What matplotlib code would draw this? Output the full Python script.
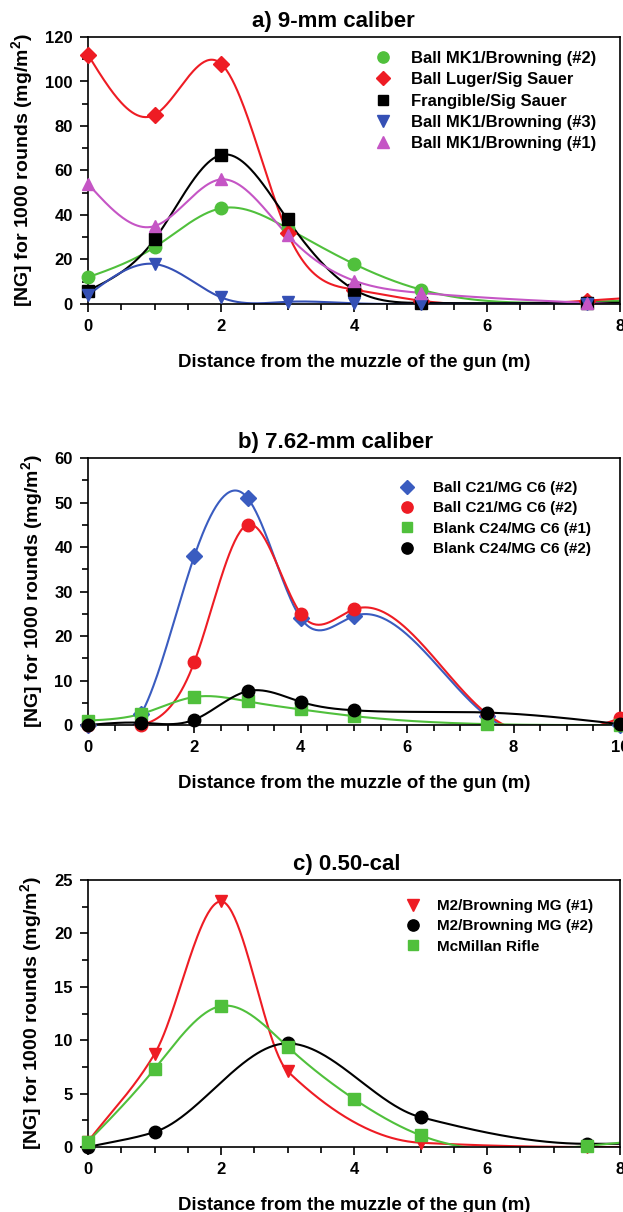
import numpy as np
import matplotlib
matplotlib.use('Agg')
import matplotlib.pyplot as plt
from matplotlib.ticker import MultipleLocator

plt.rcParams['font.family'] = ['Liberation Sans', 'DejaVu Sans']
plt.rcParams['font.weight'] = 'bold'
plt.rcParams['mathtext.fontset'] = 'custom'
plt.rcParams['mathtext.bf'] = 'Liberation Sans:bold'
plt.rcParams['mathtext.rm'] = 'Liberation Sans:bold'
plt.rcParams['mathtext.default'] = 'bf'

# ---- panel a) 9-mm caliber ----
dist_a = [0, 1, 2, 3, 4, 5, 7.5]
mk1_2_a = [12, 25.5, 43, 34, 18, 6.5, 1]
luger_a = [112, 85, 108, 32, 6.5, 1.5, 1.5]
frang_a = [6, 29, 67, 38, 6.5, 0.5, 0.5]
mk1_3_a = [4, 18, 3, 1, 0.3, 0, 0]
mk1_1_a = [54, 35, 56, 31, 10.5, 5, 0.5]

# ---- panel b) 7.62-mm caliber ----
dist_b = [0, 1, 2, 3, 4, 5, 7.5, 10]
ball_blue_b = [0, 2.5, 38, 51, 24, 24.5, 2, 0]
ball_red_b = [0, 0, 14.2, 45, 25, 26, 2.5, 1.5]
blank1_b = [1, 2.5, 6.3, 5.3, 3.5, 2, 0.2, 0]
blank2_b = [0, 0.5, 1.2, 7.6, 5.2, 3.3, 2.8, 0.2]

# ---- panel c) 0.50-cal ----
dist_c_red = [0, 1, 2, 3, 5, 7.5]
m2_1_c = [0.5, 8.7, 23, 7.1, 0.4, 0]
dist_c_blk = [0, 1, 3, 5, 7.5]
m2_2_c = [0, 1.4, 9.7, 2.8, 0.3]
dist_c_grn = [0, 1, 2, 3, 4, 5, 7.5]
mcmillan_c = [0.5, 7.3, 13.2, 9.4, 4.5, 1.1, 0.1]

GREEN = '#50c03c'
RED = '#ee1c24'
BLUE = '#3550b5'
MAGENTA = '#c555c5'
BLUE_B = '#3a5cc0'


def nat_spline(x, y, xmax, n=400):
    # natural cubic spline, linear extension past the last point
    x = np.asarray(x, float)
    y = np.asarray(y, float)
    m = len(x)
    h = np.diff(x)
    A = np.zeros((m, m))
    r = np.zeros(m)
    A[0, 0] = A[-1, -1] = 1
    for i in range(1, m - 1):
        A[i, i - 1] = h[i - 1]
        A[i, i] = 2 * (h[i - 1] + h[i])
        A[i, i + 1] = h[i]
        r[i] = 6 * ((y[i + 1] - y[i]) / h[i] - (y[i] - y[i - 1]) / h[i - 1])
    M = np.linalg.solve(A, r)
    xs = np.linspace(x[0], xmax, n)
    ys = np.empty_like(xs)
    for k, xv in enumerate(xs):
        if xv >= x[-1]:
            i = m - 2
            d = (y[i + 1] - y[i]) / h[i] + h[i] * (2 * M[i + 1] + M[i]) / 6
            ys[k] = y[-1] + d * (xv - x[-1])
            continue
        i = min(np.searchsorted(x, xv, side='right') - 1, m - 2)
        t1 = x[i + 1] - xv
        t0 = xv - x[i]
        ys[k] = (M[i] * t1 ** 3 + M[i + 1] * t0 ** 3) / (6 * h[i]) \
            + (y[i] / h[i] - M[i] * h[i] / 6) * t1 \
            + (y[i + 1] / h[i] - M[i + 1] * h[i] / 6) * t0
    return xs, ys


def pchip(x, y, xmax, n=400):
    # monotone cubic (Fritsch-Carlson), flat past the last point
    x = np.asarray(x, float)
    y = np.asarray(y, float)
    h = np.diff(x)
    dl = np.diff(y) / h
    d = np.zeros_like(y)
    for i in range(1, len(x) - 1):
        if dl[i - 1] * dl[i] > 0:
            w1 = 2 * h[i] + h[i - 1]
            w2 = h[i] + 2 * h[i - 1]
            d[i] = (w1 + w2) / (w1 / dl[i - 1] + w2 / dl[i])
    d[0] = dl[0]
    d[-1] = 0
    xs = np.linspace(x[0], xmax, n)
    ys = np.empty_like(xs)
    for k, xv in enumerate(xs):
        if xv >= x[-1]:
            ys[k] = y[-1]
            continue
        i = min(np.searchsorted(x, xv, side='right') - 1, len(x) - 2)
        t = (xv - x[i]) / h[i]
        ys[k] = (2 * t ** 3 - 3 * t ** 2 + 1) * y[i] \
            + (t ** 3 - 2 * t ** 2 + t) * h[i] * d[i] \
            + (-2 * t ** 3 + 3 * t ** 2) * y[i + 1] \
            + (t ** 3 - t ** 2) * h[i] * d[i + 1]
    return xs, ys


def series(ax, x, y, color, marker, ms, label, xmax, curve=nat_spline):
    xs, ys = curve(x, y, xmax)
    ax.plot(xs, ys, color=color, lw=1.5)
    ax.plot(x, y, ls='none', marker=marker, ms=ms, color=color,
            mec=color, label=label, clip_on=False, zorder=3)


def style(ax, title, title_x, xmax, ymax, ymaj, ymin_, leg_anchor, leg_fs,
          leg_sp, leg_pad):
    ax.set_xlim(0, xmax)
    ax.set_ylim(0, ymax)
    ax.xaxis.set_major_locator(MultipleLocator(2))
    ax.xaxis.set_minor_locator(MultipleLocator(0.5))
    ax.yaxis.set_major_locator(MultipleLocator(ymaj))
    ax.yaxis.set_minor_locator(MultipleLocator(ymin_))
    ax.tick_params(which='major', length=6, width=1.2, labelsize=12, pad=5)
    ax.tick_params(which='minor', length=4, width=1.2)
    for s in ax.spines.values():
        s.set_linewidth(1.2)
    ax.set_title(title, fontsize=16, fontweight='bold', pad=7, x=title_x)
    ax.set_xlabel('Distance from the muzzle of the gun (m)', fontsize=13.4,
                  fontweight='bold', labelpad=14)
    ax.set_ylabel(r'[NG] for 1000 rounds (mg/m$^2$)', fontsize=14,
                  fontweight='bold', labelpad=7)
    ax.legend(loc='upper left', bbox_to_anchor=leg_anchor, frameon=False,
              fontsize=leg_fs, handlelength=1.0, handletextpad=leg_pad,
              labelspacing=leg_sp, borderpad=0, borderaxespad=0,
              markerscale=0.9)


fig = plt.figure(figsize=(6.23, 12.12), dpi=100)
W = 532 / 623
H = 267 / 1212
ax_a = fig.add_axes([88 / 623, 1 - 304 / 1212, W, H])
ax_b = fig.add_axes([88 / 623, 1 - 725 / 1212, W, H])
ax_c = fig.add_axes([88 / 623, 1 - 1147 / 1212, W, H])

series(ax_a, dist_a, mk1_2_a, GREEN, 'o', 9, 'Ball MK1/Browning (#2)', 8)
series(ax_a, dist_a, luger_a, RED, 'D', 8, 'Ball Luger/Sig Sauer', 8)
series(ax_a, dist_a, frang_a, 'black', 's', 8, 'Frangible/Sig Sauer', 8)
series(ax_a, dist_a, mk1_3_a, BLUE, 'v', 9, 'Ball MK1/Browning (#3)', 8)
series(ax_a, dist_a, mk1_1_a, MAGENTA, '^', 9, 'Ball MK1/Browning (#1)', 8)
style(ax_a, 'a) 9-mm caliber', 0.462, 8, 120, 20, 10, (0.538, 0.948),
      12, 0.38, 1.2)

series(ax_b, dist_b, ball_blue_b, BLUE_B, 'D', 8, 'Ball C21/MG C6 (#2)', 10)
series(ax_b, dist_b, ball_red_b, RED, 'o', 9, 'Ball C21/MG C6 (#2)', 10)
series(ax_b, dist_b, blank1_b, GREEN, 's', 8, 'Blank C24/MG C6 (#1)', 10)
series(ax_b, dist_b, blank2_b, 'black', 'o', 9, 'Blank C24/MG C6 (#2)', 10)
style(ax_b, 'b) 7.62-mm caliber', 0.466, 10, 60, 10, 5, (0.586, 0.914),
      11, 0.42, 1.15)

series(ax_c, dist_c_red, m2_1_c, RED, 'v', 9, 'M2/Browning MG (#1)', 8,
       curve=pchip)
series(ax_c, dist_c_blk, m2_2_c, 'black', 'o', 9, 'M2/Browning MG (#2)', 8,
       curve=pchip)
series(ax_c, dist_c_grn, mcmillan_c, GREEN, 's', 8, 'McMillan Rifle', 8)
style(ax_c, 'c) 0.50-cal', 0.487, 8, 25, 5, 2.5, (0.596, 0.929),
      11, 0.42, 1.1)

fig.savefig('out.png', dpi=100)
